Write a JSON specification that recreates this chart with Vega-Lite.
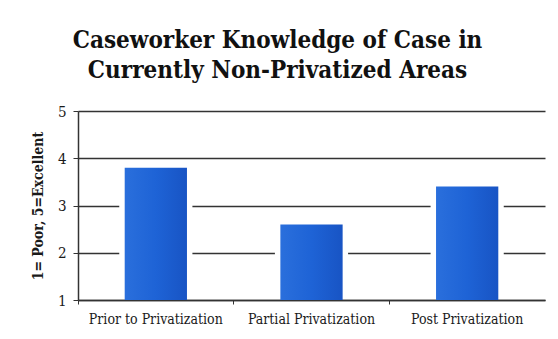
{
  "$schema": "https://vega.github.io/schema/vega-lite/v6.json",
  "width": 467,
  "height": 189,
  "autosize": "none",
  "padding": {"left": 78, "top": 111, "right": 13, "bottom": 39},
  "background": "white",
  "title": {
    "text": ["Caseworker Knowledge of Case in", "Currently Non-Privatized Areas"],
    "font": "DejaVu Serif Condensed",
    "fontSize": 24,
    "fontWeight": "bold",
    "color": "#111111",
    "anchor": "middle",
    "frame": "group",
    "dx": -34,
    "offset": 21,
    "lineHeight": 30
  },
  "data": {
    "values": [
      {"period": "Prior to Privatization", "score": 3.8},
      {"period": "Partial Privatization", "score": 2.6},
      {"period": "Post Privatization", "score": 3.4}
    ]
  },
  "encoding": {
    "x": {
      "field": "period", "type": "nominal", "sort": null,
      "scale": {"paddingInner": 0, "paddingOuter": 0},
      "axis": {
        "title": null, "labelAngle": 0, "labelFont": "DejaVu Serif Condensed", "labelFontSize": 14,
        "labelColor": "#1a1a1a", "domainColor": "#333", "domainWidth": 1.5,
        "tickColor": "#333", "tickSize": 4, "bandPosition": 0, "labelPadding": 8, "grid": false
      }
    },
    "y": {
      "field": "score", "type": "quantitative",
      "scale": {"domain": [1, 5], "zero": false, "nice": false},
      "axis": {
        "title": "1= Poor, 5=Excellent", "titleFont": "DejaVu Serif Condensed", "titleFontSize": 14,
        "titleFontWeight": "bold", "titleColor": "#1a1a1a", "titlePadding": 12,
        "values": [1, 2, 3, 4, 5], "labelFont": "DejaVu Serif Condensed", "labelFontSize": 15,
        "labelColor": "#1a1a1a", "labelPadding": 7,
        "domainColor": "#333", "domainWidth": 1.5, "tickColor": "#333", "tickSize": 5,
        "grid": true, "gridColor": "#333", "gridWidth": 1.5
      }
    }
  },
  "layer": [
    {"mark": {"type": "bar", "color": "white", "width": {"band": 0.47}}, "encoding": {"y2": {"datum": 1.03}}},
    {
      "mark": {
        "type": "bar", "width": {"band": 0.4},
        "color": {"gradient": "linear", "x1": 0, "y1": 0, "x2": 1, "y2": 0,
          "stops": [{"offset": 0, "color": "#2a6fdc"}, {"offset": 0.5, "color": "#1e63d6"}, {"offset": 1, "color": "#1854c4"}]}
      },
      "encoding": {"y2": {"datum": 1}}
    }
  ],
  "config": {"view": {"stroke": null}}
}
